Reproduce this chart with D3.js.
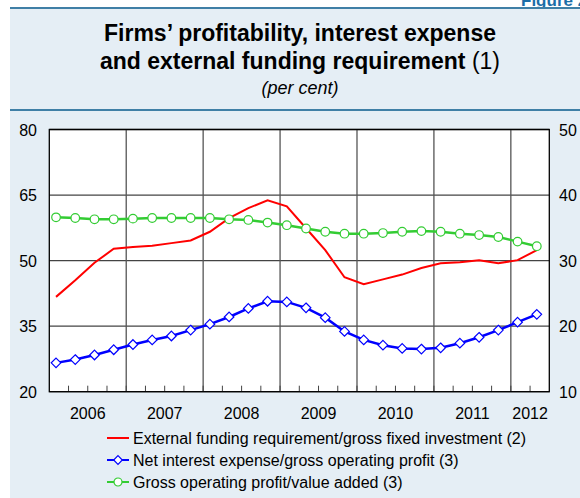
<!DOCTYPE html>
<meta charset="utf-8">
<script src="https://d3js.org/d3.v7.min.js"></script>
<style>
  body { margin: 0; background: #fff; }
  svg { display: block; font-family: "Liberation Sans", Arial, sans-serif; }
</style>
<body>
<div id="chart"></div>
<script>
// quarters 2006Q1 .. 2012Q2
var years = ["2006", "2007", "2008", "2009", "2010", "2011", "2012"];
var quartersPerYear = [4, 4, 4, 4, 4, 4, 2];

// left axis (per cent)
var funding = [41.7, 45.5, 49.5, 52.7, 53.1, 53.4, 54.0, 54.6, 56.6, 59.7, 62.0, 63.8, 62.4,
               57.4, 52.4, 46.2, 44.6, 45.7, 46.8, 48.3, 49.4, 49.6, 50.1, 49.4, 50.1, 52.4];
// right axis (per cent)
var interest = [14.4, 14.9, 15.6, 16.4, 17.2, 17.9, 18.5, 19.4, 20.3, 21.4, 22.7, 23.8, 23.7,
                22.8, 21.3, 19.2, 17.9, 17.1, 16.6, 16.5, 16.7, 17.4, 18.3, 19.4, 20.6, 21.8];
var profit = [36.6, 36.5, 36.3, 36.3, 36.4, 36.5, 36.5, 36.5, 36.5, 36.3, 36.2, 35.8, 35.4,
              34.9, 34.4, 34.1, 34.1, 34.2, 34.4, 34.5, 34.4, 34.1, 33.9, 33.6, 32.9, 32.2];

var leftTicks = [20, 35, 50, 65, 80];
var rightTicks = [10, 20, 30, 40, 50];

var legendLabels = [
  "External funding requirement/gross fixed investment (2)",
  "Net interest expense/gross operating profit (3)",
  "Gross operating profit/value added (3)"
];

var width = 580, height = 498;
var plot = {left: 49.3, right: 549.3, top: 129.5, bottom: 391.7};

var svg = d3.select("#chart").append("svg")
  .attr("width", width)
  .attr("height", height);

// panel background
svg.append("rect")
  .attr("x", 10).attr("y", 7)
  .attr("width", width - 10).attr("height", height - 7)
  .attr("fill", "#e5eef5");

svg.append("text")
  .attr("x", 521).attr("y", 6)
  .style("font-size", "17px")
  .style("font-weight", "bold")
  .style("fill", "#1b6ea8")
  .text("Figure 23");

svg.append("line")
  .attr("x1", 10).attr("x2", width).attr("y1", 8).attr("y2", 8)
  .attr("stroke", "#3f7fa6").attr("stroke-width", 2);
svg.append("line")
  .attr("x1", 10).attr("x2", width).attr("y1", 110).attr("y2", 110)
  .attr("stroke", "#3f7fa6").attr("stroke-width", 2);

// title
svg.append("text")
  .attr("x", 300).attr("y", 41)
  .attr("text-anchor", "middle")
  .style("font-size", "23px").style("font-weight", "bold")
  .text("Firms\u2019 profitability, interest expense");

var t2 = svg.append("text")
  .attr("x", 300).attr("y", 69)
  .attr("text-anchor", "middle")
  .style("font-size", "23px");
t2.append("tspan").style("font-weight", "bold").text("and external funding requirement ");
t2.append("tspan").text("(1)");

svg.append("text")
  .attr("x", 300).attr("y", 94)
  .attr("text-anchor", "middle")
  .style("font-size", "18px").style("font-style", "italic")
  .text("(per cent)");

// scales
var nQ = d3.sum(quartersPerYear);
var x = d3.scaleLinear().domain([0, nQ]).range([plot.left, plot.right]);
var yL = d3.scaleLinear().domain([20, 80]).range([plot.bottom, plot.top]);
var yR = d3.scaleLinear().domain([10, 50]).range([plot.bottom, plot.top]);

svg.append("rect")
  .attr("x", plot.left).attr("y", plot.top)
  .attr("width", plot.right - plot.left).attr("height", plot.bottom - plot.top)
  .attr("fill", "#fff");

// horizontal grid
svg.selectAll(".hgrid")
  .data(leftTicks)
  .enter().append("line")
  .attr("x1", plot.left).attr("x2", plot.right)
  .attr("y1", function (d) { return yL(d); })
  .attr("y2", function (d) { return yL(d); })
  .attr("stroke", "#444").attr("stroke-width", 1.3);

// year boundaries
var bounds = [];
var acc = 0;
quartersPerYear.forEach(function (q, i) {
  bounds.push({start: acc, end: acc + q, year: years[i]});
  acc += q;
});

svg.selectAll(".vgrid")
  .data(bounds.slice(1))
  .enter().append("line")
  .attr("x1", function (d) { return x(d.start); })
  .attr("x2", function (d) { return x(d.start); })
  .attr("y1", plot.top).attr("y2", plot.bottom)
  .attr("stroke", "#555").attr("stroke-width", 1.3);

// quarter ticks
svg.selectAll(".qtick")
  .data(d3.range(1, nQ))
  .enter().append("line")
  .attr("x1", function (d) { return x(d); })
  .attr("x2", function (d) { return x(d); })
  .attr("y1", plot.bottom).attr("y2", plot.bottom - 6)
  .attr("stroke", "#444").attr("stroke-width", 1);

// frame
svg.append("rect")
  .attr("x", plot.left).attr("y", plot.top)
  .attr("width", plot.right - plot.left).attr("height", plot.bottom - plot.top)
  .attr("fill", "none").attr("stroke", "#000").attr("stroke-width", 1.3);

// axis labels
svg.selectAll(".ylab")
  .data(leftTicks)
  .enter().append("text")
  .attr("x", 37).attr("y", function (d) { return yL(d) + 6; })
  .attr("text-anchor", "end")
  .style("font-size", "16px")
  .text(function (d) { return d; });

svg.selectAll(".yrlab")
  .data(rightTicks)
  .enter().append("text")
  .attr("x", 559).attr("y", function (d) { return yR(d) + 6; })
  .style("font-size", "16px")
  .text(function (d) { return d; });

svg.selectAll(".xlab")
  .data(bounds)
  .enter().append("text")
  .attr("x", function (d) { return x((d.start + d.end) / 2); })
  .attr("y", 419)
  .attr("text-anchor", "middle")
  .style("font-size", "16px")
  .text(function (d) { return d.year; });

// series
var xq = function (d, i) { return x(i + 0.35); };

svg.append("path")
  .datum(funding)
  .attr("fill", "none").attr("stroke", "#ff0000").attr("stroke-width", 2)
  .attr("d", d3.line().x(xq).y(function (d) { return yL(d); }));

svg.append("path")
  .datum(profit)
  .attr("fill", "none").attr("stroke", "#33cc33").attr("stroke-width", 2.5)
  .attr("d", d3.line().x(xq).y(function (d) { return yR(d); }));

svg.selectAll(".gdot")
  .data(profit)
  .enter().append("circle")
  .attr("cx", xq).attr("cy", function (d) { return yR(d); })
  .attr("r", 4.3)
  .attr("fill", "#fff").attr("stroke", "#33cc33").attr("stroke-width", 1.2);

svg.append("path")
  .datum(interest)
  .attr("fill", "none").attr("stroke", "#0000ff").attr("stroke-width", 2.5)
  .attr("d", d3.line().x(xq).y(function (d) { return yR(d); }));

svg.selectAll(".bdot")
  .data(interest)
  .enter().append("path")
  .attr("transform", function (d, i) { return "translate(" + xq(d, i) + "," + yR(d) + ")"; })
  .attr("d", "M0,-4.8L4.8,0L0,4.8L-4.8,0Z")
  .attr("fill", "#fff").attr("stroke", "#0000ff").attr("stroke-width", 1.2);

// legend
var legColors = ["#ff0000", "#0000ff", "#33cc33"];
var leg = svg.selectAll(".leg")
  .data(legendLabels)
  .enter().append("g")
  .attr("transform", function (d, i) { return "translate(107," + (438 + i * 22) + ")"; });

leg.append("line")
  .attr("x1", 0).attr("x2", 22)
  .attr("stroke", function (d, i) { return legColors[i]; })
  .attr("stroke-width", 2);

leg.filter(function (d, i) { return i === 2; })
  .append("circle")
  .attr("cx", 11).attr("r", 4)
  .attr("fill", "#fff").attr("stroke", "#33cc33").attr("stroke-width", 1.2);

leg.filter(function (d, i) { return i === 1; })
  .append("path")
  .attr("d", "M11,-4.3L15.3,0L11,4.3L6.7,0Z")
  .attr("fill", "#fff").attr("stroke", "#0000ff").attr("stroke-width", 1.2);

leg.append("text")
  .attr("x", 26).attr("y", 6)
  .style("font-size", "16px")
  .text(function (d) { return d; });
</script>
</body>
